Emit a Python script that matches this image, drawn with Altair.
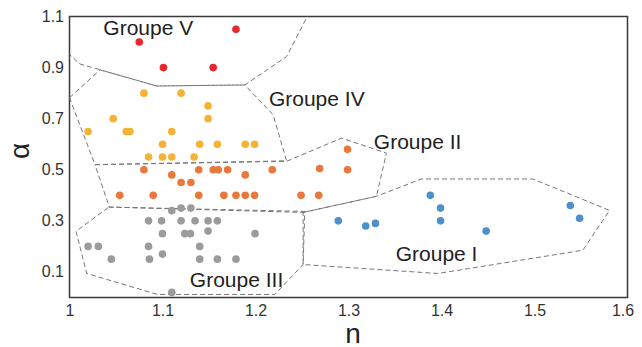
import altair as alt
import pandas as pd

groups = ["Groupe I", "Groupe II", "Groupe III", "Groupe IV", "Groupe V"]
colors = ["#4d90cc", "#e8783b", "#9b9b9b", "#f4b335", "#e8262b"]
sizes = [58, 58, 58, 58, 32]

# Points
g1_n = [1.388, 1.399, 1.289, 1.3185, 1.329, 1.399, 1.448, 1.5385, 1.5485]
g1_a = [0.40, 0.35, 0.30, 0.28, 0.29, 0.30, 0.26, 0.36, 0.31]

g2_n = [1.080, 1.139, 1.1545, 1.160, 1.170, 1.218, 1.269,
        1.189, 1.110, 1.120, 1.1305,
        1.054, 1.090, 1.139, 1.166, 1.179, 1.189, 1.199, 1.249, 1.268,
        1.299, 1.299]
g2_a = [0.50, 0.50, 0.50, 0.50, 0.50, 0.50, 0.505,
        0.48, 0.48, 0.45, 0.45,
        0.40, 0.40, 0.40, 0.40, 0.40, 0.40, 0.40, 0.40, 0.40,
        0.58, 0.50]

g3_n = [1.110, 1.120, 1.1305,
        1.085, 1.099, 1.120, 1.135, 1.149, 1.159,
        1.100, 1.124, 1.130, 1.149, 1.1995,
        1.020, 1.031, 1.085, 1.140,
        1.100,
        1.045, 1.086, 1.140, 1.159, 1.179,
        1.110]
g3_a = [0.34, 0.35, 0.35,
        0.30, 0.30, 0.30, 0.30, 0.30, 0.30,
        0.25, 0.25, 0.25, 0.26, 0.25,
        0.20, 0.20, 0.20, 0.20,
        0.17,
        0.15, 0.15, 0.15, 0.15, 0.15,
        0.02]

g4_n = [1.080, 1.120, 1.149, 1.047, 1.149, 1.020, 1.061, 1.065, 1.110,
        1.100, 1.140, 1.159, 1.189, 1.199, 1.085, 1.100, 1.110, 1.134]
g4_a = [0.80, 0.80, 0.75, 0.70, 0.70, 0.65, 0.65, 0.65, 0.65,
        0.60, 0.60, 0.60, 0.60, 0.60, 0.55, 0.55, 0.55, 0.55]

g5_n = [1.075, 1.101, 1.1545, 1.179]
g5_a = [1.00, 0.90, 0.90, 1.05]

# Dashed boundaries
b1_n = [1.2512, 1.3300, 1.3784, 1.4983, 1.5807, 1.5520, 1.3962, 1.2512, 1.2512]
b1_a = [0.333, 0.396, 0.464, 0.464, 0.341, 0.185, 0.094, 0.129, 0.333]
b2_n = [1.0274, 1.2334, 1.2924, 1.3408, 1.3300, 1.2512, 1.0428, 1.0274]
b2_a = [0.520, 0.533, 0.624, 0.565, 0.396, 0.333, 0.354, 0.520]
b3_n = [1.0424, 1.2530, 1.2512, 1.2208, 1.0945, 1.0185, 1.0070, 1.0424]
b3_a = [0.354, 0.337, 0.129, 0.012, 0.012, 0.094, 0.259, 0.354]
b4_n = [1.0000, 1.0328, 1.0937, 1.1885, 1.2190, 1.2334, 1.0274, 1.0000]
b4_a = [0.782, 0.891, 0.828, 0.832, 0.715, 0.535, 0.520, 0.782]
b5_n = [0.998, 1.0113, 1.0937, 1.1885, 1.2334, 1.2560]
b5_a = [0.958, 0.914, 0.828, 0.832, 0.943, 1.102]

# Labels
lab_text = ["Groupe V", "Groupe IV", "Groupe II", "Groupe I", "Groupe III"]
lab_n = [1.0847, 1.2659, 1.3743, 1.3947, 1.1796]
lab_a = [1.028, 0.748, 0.580, 0.141, 0.042]

pts = pd.concat([
    pd.DataFrame({"n": n, "a": a, "group": g})
    for g, n, a in zip(groups, [g1_n, g2_n, g3_n, g4_n, g5_n],
                       [g1_a, g2_a, g3_a, g4_a, g5_a])
], ignore_index=True)

bnd = pd.concat([
    pd.DataFrame({"n": n, "a": a, "group": g, "order": list(range(len(n)))})
    for g, n, a in zip(groups, [b1_n, b2_n, b3_n, b4_n, b5_n],
                       [b1_a, b2_a, b3_a, b4_a, b5_a])
], ignore_index=True)

labs = pd.DataFrame({"n": lab_n, "a": lab_a, "t": lab_text})

FONT = "Liberation Sans"

xenc = alt.X("n:Q",
             scale=alt.Scale(domain=[1, 1.6], nice=False, zero=False),
             axis=alt.Axis(values=[1, 1.1, 1.2, 1.3, 1.4, 1.5, 1.6],
                           labelExpr="datum.value == 1 ? '1' : format(datum.value, '.1f')",
                           title="n", grid=False, ticks=False, tickSize=0, domain=False,
                           labelPadding=5, labelFontSize=16, labelFont=FONT, labelColor="#333",
                           labelOffset={"condition": {"test": "datum.value > 1.55", "value": -5},
                                        "value": 0},
                           titleFontSize=28, titleFont=FONT, titleFontWeight="normal",
                           titleColor="#222", titleX=283, titleY=45, titleBaseline="alphabetic",
                           titleAlign="center", labelFlush=False))
yenc = alt.Y("a:Q",
             scale=alt.Scale(domain=[0, 1.1], nice=False, zero=False),
             axis=alt.Axis(values=[0.1, 0.3, 0.5, 0.7, 0.9, 1.1], format=".1f",
                           title="α", grid=False, ticks=False, tickSize=0, domain=False,
                           labelPadding=6, labelFontSize=16, labelFont=FONT, labelColor="#333",
                           titleFontSize=28, titleFont=FONT, titleFontWeight="normal",
                           titleColor="#222", titleX=-41, titleY=134, titleBaseline="alphabetic",
                           titleAlign="center", titleAngle=270, labelFlush=False))

lines = alt.Chart(bnd).mark_line(strokeDash=[5, 3], color="#777", strokeWidth=1, clip=True).encode(
    x=xenc, y=yenc, detail="group:N", order="order:Q")

points = alt.Chart(pts).mark_circle(opacity=1).encode(
    x="n:Q", y="a:Q",
    color=alt.Color("group:N", scale=alt.Scale(domain=groups, range=colors), legend=None),
    size=alt.Size("group:N", scale=alt.Scale(domain=groups, range=sizes), legend=None))

texts = alt.Chart(labs).mark_text(font=FONT, fontSize=21, color="#222",
                                  align="center", baseline="alphabetic").encode(
    x="n:Q", y="a:Q", text="t:N")

chart = alt.layer(lines, points, texts).properties(
    width=558, height=281,
    autosize=alt.AutoSizeParams(type="none"),
    padding={"left": 61.5, "top": 8.5, "right": 6.5, "bottom": 50},
    background="white",
).configure_view(stroke="#3a3a3a", strokeWidth=1.5)

chart.save("out.html", embed_options={"renderer": "svg", "actions": False})
